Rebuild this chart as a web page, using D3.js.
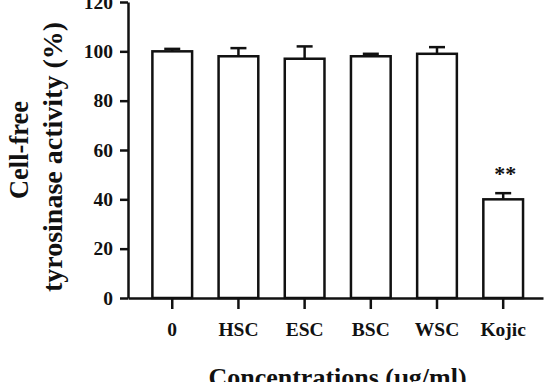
<!DOCTYPE html>
<html>
<head>
<meta charset="utf-8">
<script src="https://cdn.jsdelivr.net/npm/d3@7"></script>
<style>
  body { margin: 0; background: #fff; }
  svg text { font-family: "Liberation Serif", "Times New Roman", serif; font-weight: bold; fill: #111; }
</style>
</head>
<body>
<div id="chart"></div>
<script>
// data
var categories = ["0", "HSC", "ESC", "BSC", "WSC", "Kojic"];
var values = [100, 98, 97, 98, 99, 40];
var errors = [1, 3.3, 5, 1, 2.7, 2.5];
var marks = ["", "", "", "", "", "**"];
var yTicks = [0, 20, 40, 60, 80, 100, 120];

var width = 557, height = 382;
var plotLeft = 128, plotRight = 543, plotTop = 2, plotBottom = 298;

var svg = d3.select("#chart")
  .append("svg")
  .attr("width", width)
  .attr("height", height);

var x = d3.scaleBand()
  .domain(categories)
  .range([plotLeft, plotRight])
  .paddingInner(0.4)
  .paddingOuter(0.335)
  .align(0.55);

var y = d3.scaleLinear()
  .domain([0, 120])
  .range([plotBottom, plotTop]);

var rows = categories.map(function(c, i) {
  return { cat: c, value: values[i], err: errors[i], mark: marks[i] };
});

// bars
svg.selectAll("rect.bar")
  .data(rows)
  .enter().append("rect")
  .attr("class", "bar")
  .attr("x", function(d) { return x(d.cat); })
  .attr("y", function(d) { return y(d.value); })
  .attr("width", x.bandwidth())
  .attr("height", function(d) { return y(0) - y(d.value); })
  .attr("fill", "#fff")
  .attr("stroke", "#111")
  .attr("stroke-width", 2.5);

// error bars (upper only)
var eb = svg.selectAll("g.err")
  .data(rows)
  .enter().append("g")
  .attr("class", "err")
  .attr("stroke", "#111")
  .attr("stroke-width", 2.5);

eb.append("line")
  .attr("x1", function(d) { return x(d.cat) + x.bandwidth() / 2; })
  .attr("x2", function(d) { return x(d.cat) + x.bandwidth() / 2; })
  .attr("y1", function(d) { return y(d.value); })
  .attr("y2", function(d) { return y(d.value + d.err); });

eb.append("line")
  .attr("x1", function(d) { return x(d.cat) + x.bandwidth() / 2 - 8; })
  .attr("x2", function(d) { return x(d.cat) + x.bandwidth() / 2 + 8; })
  .attr("y1", function(d) { return y(d.value + d.err); })
  .attr("y2", function(d) { return y(d.value + d.err); });

// significance stars
svg.selectAll("text.mark")
  .data(rows)
  .enter().append("text")
  .attr("class", "mark")
  .attr("x", function(d) { return x(d.cat) + x.bandwidth() / 2 + 2; })
  .attr("y", function(d) { return y(d.value + d.err) - 12; })
  .attr("text-anchor", "middle")
  .style("font-size", "22px")
  .text(function(d) { return d.mark; });

// y axis
var yAxis = svg.append("g")
  .attr("transform", "translate(" + plotLeft + ",0)")
  .call(d3.axisLeft(y).tickValues(yTicks).tickSize(8).tickSizeOuter(0).tickPadding(7));

// x axis
var xAxis = svg.append("g")
  .attr("transform", "translate(0," + plotBottom + ")")
  .call(d3.axisBottom(x).tickSize(11).tickSizeOuter(0).tickPadding(13));

[yAxis, xAxis].forEach(function(a) {
  a.select(".domain").attr("stroke", "#111").attr("stroke-width", 2.5);
  a.selectAll(".tick line").attr("stroke", "#111").attr("stroke-width", 2.5);
  a.selectAll(".tick text").style("font-size", "19.5px").attr("fill", "#111")
    .style("font-family", "'Liberation Serif', 'Times New Roman', serif").style("font-weight", "bold");
});

// axis titles
svg.append("text")
  .attr("transform", "translate(28,150) rotate(-90)")
  .attr("text-anchor", "middle")
  .style("font-size", "26.5px")
  .text("Cell-free");

svg.append("text")
  .attr("transform", "translate(62,157) rotate(-90)")
  .attr("text-anchor", "middle")
  .style("font-size", "28px")
  .text("tyrosinase activity (%)");

svg.append("text")
  .attr("x", (plotLeft + plotRight) / 2 + 2)
  .attr("y", 386)
  .attr("text-anchor", "middle")
  .style("font-size", "26px")
  .text("Concentrations (\u03bcg/ml)");
</script>
</body>
</html>
